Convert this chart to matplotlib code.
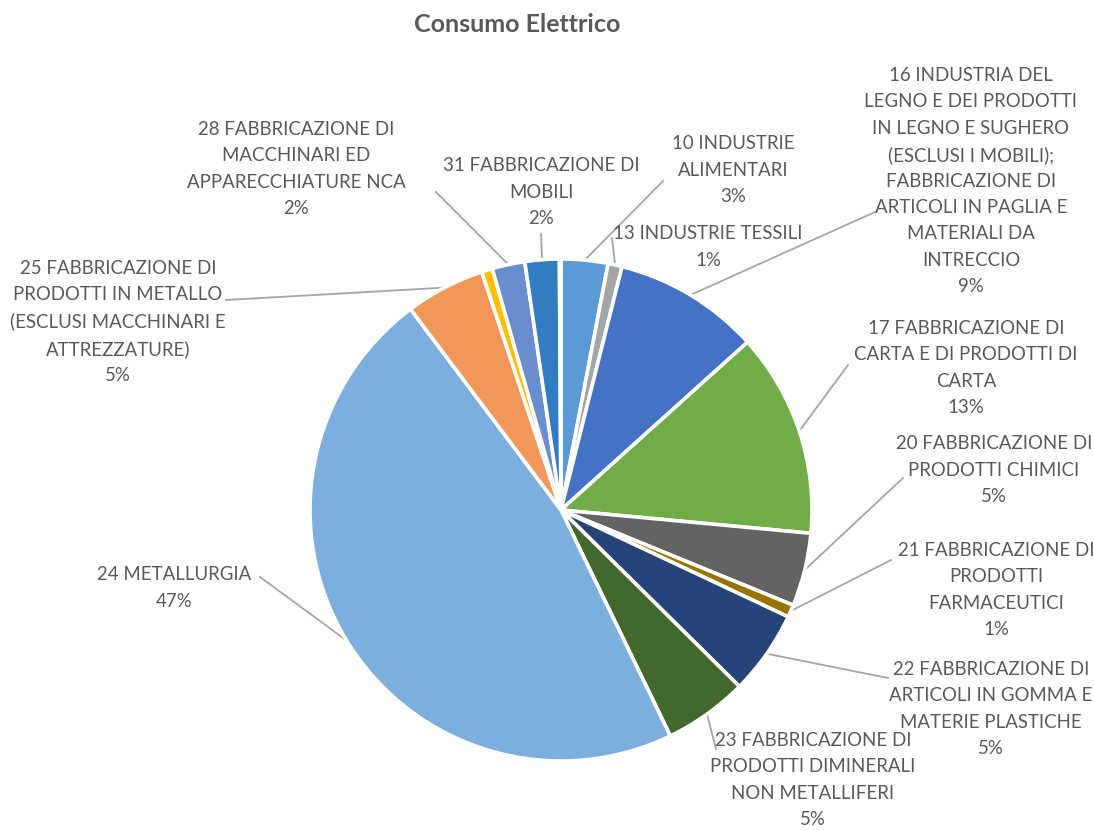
import numpy as np
import matplotlib
matplotlib.use('Agg')
import matplotlib.pyplot as plt

# data (percent of electricity consumption)
labels = ['10 INDUSTRIE\nALIMENTARI\n3%',
          '13 INDUSTRIE TESSILI\n1%',
          '16 INDUSTRIA DEL\nLEGNO E DEI PRODOTTI\nIN LEGNO E SUGHERO\n(ESCLUSI I MOBILI);\nFABBRICAZIONE DI\nARTICOLI IN PAGLIA E\nMATERIALI DA\nINTRECCIO\n9%',
          '17 FABBRICAZIONE DI\nCARTA E DI PRODOTTI DI\nCARTA\n13%',
          '20 FABBRICAZIONE DI\nPRODOTTI CHIMICI\n5%',
          '21 FABBRICAZIONE DI\nPRODOTTI\nFARMACEUTICI\n1%',
          '22 FABBRICAZIONE DI\nARTICOLI IN GOMMA E\nMATERIE PLASTICHE\n5%',
          '23 FABBRICAZIONE DI\nPRODOTTI DIMINERALI\nNON METALLIFERI\n5%',
          '24 METALLURGIA\n47%',
          '25 FABBRICAZIONE DI\nPRODOTTI IN METALLO\n(ESCLUSI MACCHINARI E\nATTREZZATURE)\n5%',
          '',
          '28 FABBRICAZIONE DI\nMACCHINARI ED\nAPPARECCHIATURE NCA\n2%',
          '31 FABBRICAZIONE DI\nMOBILI\n2%',
          '']
values = [3.0, 0.9, 9.4, 13.1, 4.7, 0.8, 5.4, 5.4, 46.8, 5.1, 0.7, 2.1, 2.2, 0.1]
colors = ['#5B9BD5', '#A5A5A5', '#4472C4', '#70AD47', '#636363', '#997300',
          '#264478', '#43682B', '#7CAFDD', '#F1975A', '#FFC000', '#698ED0',
          '#327DC2', '#F8CBAD']

# label layout (image pixel coords): text centre and leader end point
text_pos = [(733, 170), (708, 247), (971, 181), (966, 368), (994, 470), (996, 590),
            (991, 709), (813, 780), (174, 588), (118, 322), None, (296, 169),
            (541, 192), None]
line_end = [(663, 181), (612, 238), (875, 212), (848, 365), (903, 478), (891, 560),
            (888, 678), (716, 749), (260, 577), (226, 300), None, (436, 192),
            (541, 234), None]

W, H = 1094, 830
cx, cy, r = 561, 510, 251
txt_color = '#595959'
plt.rcParams['font.family'] = ['Lato', 'DejaVu Sans']

fig = plt.figure(figsize=(W / 100, H / 100), dpi=100)
ax = fig.add_axes([0, 0, 1, 1])
ax.set_xlim(0, W)
ax.set_ylim(0, H)
ax.axis('off')

wedges, _ = ax.pie(values, colors=colors, startangle=90, counterclock=False,
                   center=(cx, H - cy), radius=r,
                   wedgeprops=dict(edgecolor='white', linewidth=2.6))
ax.set_xlim(0, W)
ax.set_ylim(0, H)

for w, lab, tp, le in zip(wedges, labels, text_pos, line_end):
    if tp is None:
        continue
    ang = np.deg2rad((w.theta1 + w.theta2) / 2)
    x0 = cx + r * np.cos(ang)
    y0 = (H - cy) + r * np.sin(ang)
    ax.plot([x0, le[0]], [y0, H - le[1]], color='#A6A6A6', lw=1.3, zorder=0)
    ax.text(tp[0], H - tp[1], lab, ha='center', va='center', multialignment='center',
            fontsize=13.4, color=txt_color, linespacing=1.65)

ax.text(517, H - 25, 'Consumo Elettrico', ha='center', va='center',
        fontsize=18, fontweight='bold', color=txt_color)

fig.savefig('out.png', dpi=100)
